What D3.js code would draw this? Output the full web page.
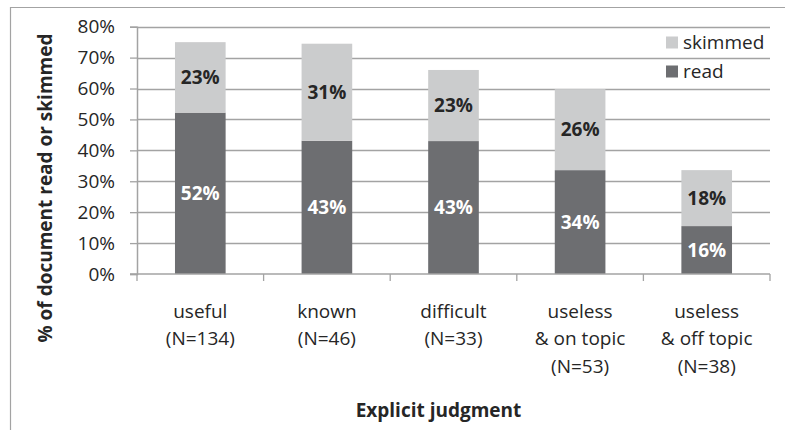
<!DOCTYPE html>
<html>
<head>
<meta charset="utf-8">
<script src="https://cdn.jsdelivr.net/npm/d3@7"></script>
<style>
  html, body { margin: 0; padding: 0; background: #fff; }
  svg { display: block; }
  text { font-family: "Open Sans", sans-serif; fill: #262626; }
</style>
</head>
<body>
<script>
// ---- data ----
const categories = [
  ["useful", "(N=134)"],
  ["known", "(N=46)"],
  ["difficult", "(N=33)"],
  ["useless", "& on topic", "(N=53)"],
  ["useless", "& off topic", "(N=38)"]
];
const readValues = [52.2, 43.1, 43.0, 33.6, 15.5];
const skimmedValues = [22.8, 31.4, 23.0, 26.2, 18.1];
const yTicks = [0, 10, 20, 30, 40, 50, 60, 70, 80];
const seriesNames = ["read", "skimmed"];
const yTitle = "% of document read or skimmed";
const xTitle = "Explicit judgment";

// ---- layout ----
const W = 785, H = 430;
const plot = { left: 137, right: 770, top: 26.7, bottom: 274 };
const colors = { read: "#6d6e71", skimmed: "#cbcccd" };
const gridColor = "#a3a3a3";

const svg = d3.select("body").append("svg").attr("width", W).attr("height", H);

// chart border (top and left visible)
svg.append("line").attr("x1", 10).attr("x2", W + 5).attr("y1", 7.5).attr("y2", 7.5)
  .attr("stroke", gridColor).attr("stroke-width", 1.2);
svg.append("line").attr("x1", 10.5).attr("x2", 10.5).attr("y1", 7).attr("y2", H + 5)
  .attr("stroke", gridColor).attr("stroke-width", 1.2);

const x = d3.scaleBand().domain(d3.range(categories.length))
  .range([plot.left, plot.right]).paddingInner(0.6).paddingOuter(0.3);
const xOuter = d3.scaleBand().domain(d3.range(categories.length))
  .range([plot.left, plot.right]);
const y = d3.scaleLinear().domain([0, 80]).range([plot.bottom, plot.top]);

// gridlines
svg.append("g").selectAll("line").data(yTicks.filter(t => t > 0)).join("line")
  .attr("x1", plot.left).attr("x2", plot.right)
  .attr("y1", d => Math.round(y(d)) + 0.5).attr("y2", d => Math.round(y(d)) + 0.5)
  .attr("stroke", gridColor).attr("stroke-width", 1.3);

// y axis
const yAxis = svg.append("g").attr("transform", `translate(${plot.left},0)`)
  .call(d3.axisLeft(y).tickValues(yTicks).tickFormat(d => d + "%").tickSize(7).tickPadding(15));
yAxis.select(".domain").attr("stroke", gridColor).attr("stroke-width", 1.5);
yAxis.selectAll(".tick line").attr("stroke", gridColor).attr("stroke-width", 1.3);
yAxis.selectAll(".tick text").attr("font-size", 19).attr("font-family", "Open Sans")
  .attr("fill", "#262626");

// stacked data
const stackData = categories.map((c, i) => ({ i, read: readValues[i], skimmed: skimmedValues[i] }));
const stacked = d3.stack().keys(seriesNames)(stackData);

const g = svg.append("g");
stacked.forEach(layer => {
  g.append("g").selectAll("rect").data(layer).join("rect")
    .attr("x", d => x(d.data.i))
    .attr("width", x.bandwidth())
    .attr("y", d => y(d[1]))
    .attr("height", d => y(d[0]) - y(d[1]))
    .attr("fill", colors[layer.key]);
  g.append("g").selectAll("text").data(layer).join("text")
    .attr("x", d => x(d.data.i) + x.bandwidth() / 2)
    .attr("y", d => (y(d[0]) + y(d[1])) / 2)
    .attr("dy", "0.36em")
    .attr("text-anchor", "middle")
    .attr("font-weight", "bold")
    .attr("font-size", 19)
    .style("fill", layer.key === "read" ? "#ffffff" : "#262626")
    .text(d => Math.round(d.data[layer.key]) + "%");
});

// x axis
const xAxisG = svg.append("g");
xAxisG.append("line").attr("x1", plot.left - 7).attr("x2", plot.right)
  .attr("y1", plot.bottom).attr("y2", plot.bottom)
  .attr("stroke", gridColor).attr("stroke-width", 1.5);
const bounds = d3.range(categories.length + 1).map(i =>
  i < categories.length ? xOuter(i) : xOuter(i - 1) + xOuter.bandwidth());
xAxisG.selectAll("line.tk").data(bounds).join("line").attr("class", "tk")
  .attr("x1", d => d).attr("x2", d => d)
  .attr("y1", plot.bottom).attr("y2", plot.bottom + 7)
  .attr("stroke", gridColor).attr("stroke-width", 1.3);

// category labels
const lab = svg.append("g").selectAll("text").data(categories).join("text")
  .attr("text-anchor", "middle").attr("font-size", 19)
  .attr("x", (d, i) => xOuter(i) + xOuter.bandwidth() / 2)
  .attr("y", 317.5);
lab.selectAll("tspan").data(d => d).join("tspan")
  .attr("x", function () { return this.parentNode.getAttribute("x"); })
  .attr("dy", (d, j) => j === 0 ? 0 : 27.8)
  .text(d => d);

// axis titles
svg.append("text").attr("x", 438.5).attr("y", 417)
  .attr("text-anchor", "middle").attr("font-weight", "bold").attr("font-size", 19)
  .text(xTitle);
svg.append("text")
  .attr("transform", "translate(52,188) rotate(-90)")
  .attr("text-anchor", "middle").attr("font-weight", "bold").attr("font-size", 19)
  .text(yTitle);

// legend
const legendItems = ["skimmed", "read"];
const leg = svg.append("g").selectAll("g").data(legendItems).join("g")
  .attr("transform", (d, i) => `translate(666,${42.5 + i * 29})`);
leg.append("rect").attr("x", 0).attr("y", -6).attr("width", 12).attr("height", 12)
  .attr("fill", d => colors[d]);
leg.append("text").attr("x", 17).attr("dy", "0.36em").attr("font-size", 19).text(d => d);
</script>
</body>
</html>
